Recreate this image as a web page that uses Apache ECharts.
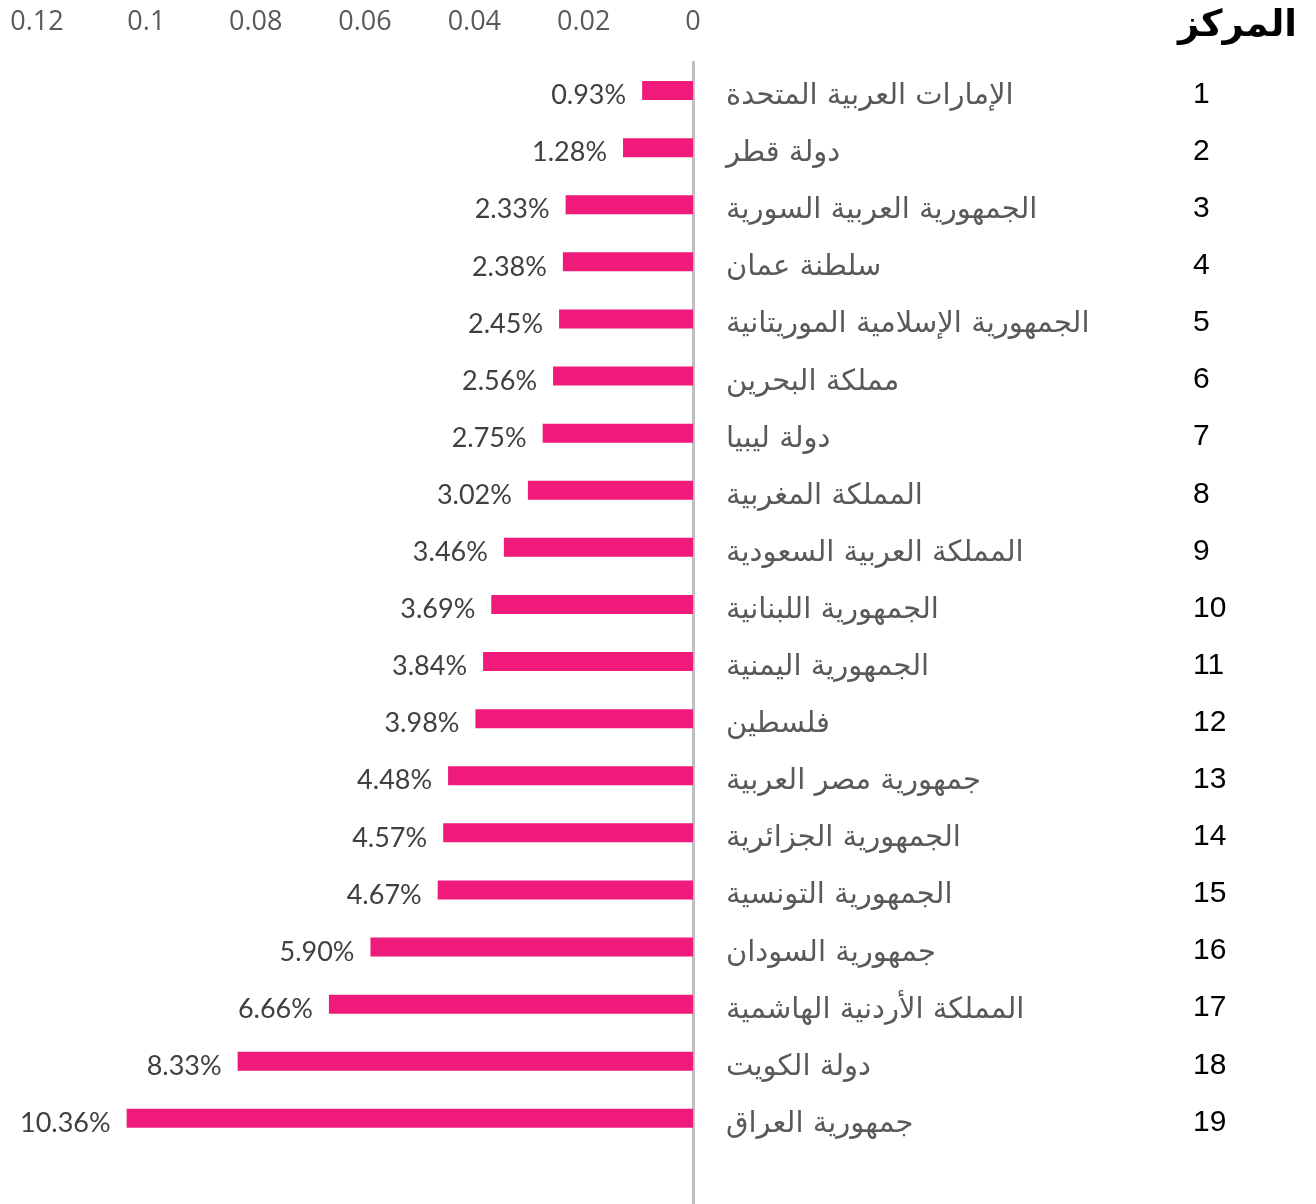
<!DOCTYPE html>
<html>
<head>
<meta charset="utf-8">
<script src="https://cdn.jsdelivr.net/npm/echarts@6/dist/echarts.min.js"></script>
<style>
  html, body { margin: 0; padding: 0; background: #fff; }
  #chart { width: 1316px; height: 1204px; }
</style>
</head>
<body>
<div id="chart"></div>
<script>
// countries in rank order, last entry is an empty row below the chart
const countries = [
  'الإمارات العربية المتحدة', 'دولة قطر', 'الجمهورية العربية السورية', 'سلطنة عمان',
  'الجمهورية الإسلامية الموريتانية', 'مملكة البحرين', 'دولة ليبيا', 'المملكة المغربية',
  'المملكة العربية السعودية', 'الجمهورية اللبنانية', 'الجمهورية اليمنية', 'فلسطين',
  'جمهورية مصر العربية', 'الجمهورية الجزائرية', 'الجمهورية التونسية', 'جمهورية السودان',
  'المملكة الأردنية الهاشمية', 'دولة الكويت', 'جمهورية العراق', ''
];
const ranks = ['1','2','3','4','5','6','7','8','9','10','11','12','13','14','15','16','17','18','19',''];
const shares = [
  0.0093, 0.0128, 0.0233, 0.0238, 0.0245, 0.0256, 0.0275, 0.0302, 0.0346, 0.0369,
  0.0384, 0.0398, 0.0448, 0.0457, 0.0467, 0.0590, 0.0666, 0.0833, 0.1036, null
];

const chart = echarts.init(document.getElementById('chart'));
chart.setOption({
  animation: false,
  title: {
    text: 'المركز',
    right: 19,
    top: 8,
    padding: 0,
    textStyle: { fontFamily: 'DejaVu Sans', fontWeight: 'bold', fontSize: 37, color: '#000' }
  },
  grid: { left: 37, right: 623, top: 62, bottom: 0 },
  xAxis: {
    type: 'value',
    position: 'top',
    inverse: true,
    min: 0,
    max: 0.12,
    interval: 0.02,
    axisLine: { show: false },
    axisTick: { show: false },
    splitLine: { show: false },
    axisLabel: {
      margin: 26,
      fontFamily: 'Liberation Sans Narrow, Open Sans, sans-serif',
      fontSize: 27,
      color: '#595959'
    }
  },
  yAxis: [
    {
      type: 'category',
      position: 'right',
      inverse: true,
      data: countries,
      axisTick: { show: false },
      axisLine: { lineStyle: { color: '#BFBFBF', width: 3 } },
      axisLabel: {
        margin: 33,
        align: 'left',
        formatter: v => '{n|' + v + '}',
        rich: {
          n: {
            padding: [12, 0, 0, 0],
            fontFamily: 'DejaVu Sans',
            fontSize: 29,
            color: '#595959'
          }
        }
      }
    },
    {
      type: 'category',
      position: 'right',
      offset: 500,
      inverse: true,
      data: ranks,
      axisTick: { show: false },
      axisLine: { show: false },
      axisLabel: {
        margin: 0,
        align: 'left',
        formatter: v => '{r|' + v + '}',
        rich: {
          r: {
            padding: [8, 0, 0, 0],
            fontFamily: 'Liberation Sans',
            fontSize: 30,
            color: '#000'
          }
        }
      }
    }
  ],
  series: [
    {
      type: 'bar',
      yAxisIndex: 0,
      data: shares,
      barWidth: 19,
      itemStyle: { color: '#F01A7B' },
      label: {
        show: true,
        position: 'left',
        distance: 16,
        offset: [0, 5],
        fontFamily: 'Lato, sans-serif',
        fontSize: 27,
        color: '#404040',
        formatter: p => (p.value * 100).toFixed(2) + '%'
      }
    }
  ]
});
</script>
</body>
</html>
